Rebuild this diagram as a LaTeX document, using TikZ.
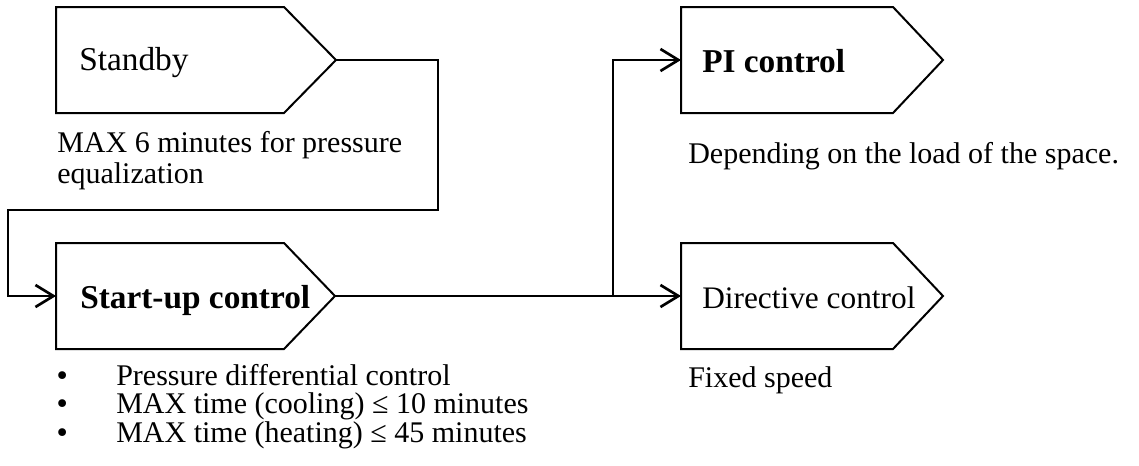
\documentclass[tikz,border=0pt]{standalone}
\usepackage{fontspec}
\setmainfont{Liberation Serif}
\newfontfamily\bulletfont{DejaVu Sans}
\usetikzlibrary{arrows.meta,calc}
\tikzset{
  boxbody/.style={draw=none, inner sep=0pt, outer sep=0pt, minimum width=#1, minimum height=79.5pt, anchor=north west},
  outline/.style={draw, line width=1.5pt, line join=miter},
  wire/.style={line width=2pt},
  arrowwire/.style={wire, -{Straight Barb[length=13.5pt,width=16.5pt]}},
  boxtext/.style={anchor=base west, inner sep=0pt, font=\fontsize{23.5pt}{28pt}\selectfont},
  boldtext/.style={anchor=base west, inner sep=0pt, font=\fontsize{25pt}{28pt}\selectfont\bfseries},
  note/.style={anchor=base west, inner sep=0pt, font=\fontsize{22.5pt}{27pt}\selectfont},
  bulletmark/.style={anchor=base west, inner sep=0pt, font=\bulletfont\fontsize{20pt}{20pt}\selectfont},
}
\newcommand{\pentbox}[2]{%
  \draw[outline] (#1.north west) -- (#1.north east) -- (#2) -- (#1.south east) -- (#1.south west) -- cycle;}
\begin{document}
\begin{tikzpicture}[x=0.75pt,y=-0.75pt]
\useasboundingbox (0,0) rectangle (1139,465);
% box bodies
\node[boxbody=171pt] (sb) at (56,7) {};
\coordinate (sbtip) at ($(sb.east)+(52,0)$);
\node[boxbody=171pt] (su) at (56,243) {};
\coordinate (sutip) at ($(su.east)+(51,0)$);
\node[boxbody=159pt] (pi) at (681,7) {};
\coordinate (pitip) at ($(pi.east)+(50,0)$);
\node[boxbody=159pt] (dc) at (681,243) {};
\coordinate (dctip) at ($(dc.east)+(50,0)$);
\pentbox{sb}{sbtip}
\pentbox{su}{sutip}
\pentbox{pi}{pitip}
\pentbox{dc}{dctip}
% box texts
\node[boxtext, font=\fontsize{25pt}{28pt}\selectfont] (sbt) at (79,70) {Standby};
\node[boldtext] (sut) at (80,308) {Start-up control};
\node[boldtext] (pit) at (702,72) {PI control};
\node[boxtext] (dct) at (702,308) {Directive control};
% notes
\node[note] (n1) at (57,152) {MAX 6 minutes for pressure};
\node[note] (n2) at (57,183) {equalization};
\node[note] (n3) at (688,163) {Depending on the load of the space.};
\node[note] (n4) at (688,387) {Fixed speed};
\node[bulletmark] (b1) at (54,385) {•};
\node[note] (l1) at (116,385) {Pressure differential control};
\node[bulletmark] (b2) at (54,413) {•};
\node[note] (l2) at (116,413) {MAX time (cooling) ≤ 10 minutes};
\node[bulletmark] (b3) at (54,442) {•};
\node[note] (l3) at (116,442) {MAX time (heating) ≤ 45 minutes};
% connectors
\coordinate (c1) at (438,210);
\coordinate (c2) at (8,210);
\coordinate (j) at (613,296);
\draw[arrowwire] (sbtip) -| (c1) -- (c2) |- (su.west);
\draw[arrowwire] (sutip) -- (dc.west);
\draw[arrowwire] (j) |- (pi.west);
\end{tikzpicture}
\end{document}
